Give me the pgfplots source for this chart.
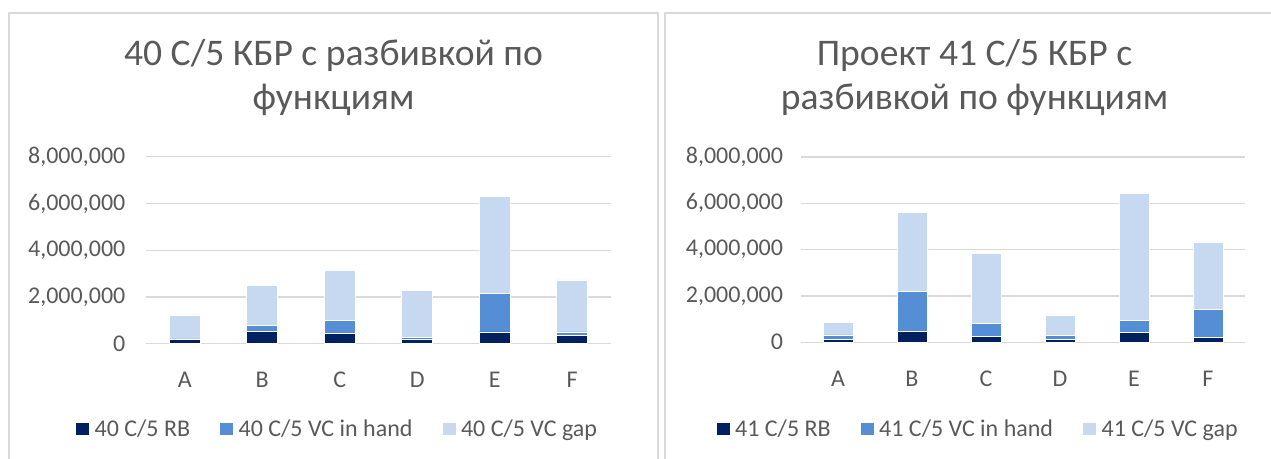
\documentclass[border=0pt]{standalone}
\usepackage{fontspec}
\setmainfont{Carlito}
\usepackage{pgfplots}
\pgfplotsset{compat=1.18}
\definecolor{rb}{RGB}{0,32,96}
\definecolor{hand}{RGB}{85,142,213}
\definecolor{gap}{RGB}{198,217,241}
\definecolor{txt}{RGB}{89,89,89}
\definecolor{grd}{RGB}{217,217,217}
\newcommand{\lblfont}{\fontsize{18pt}{21pt}\selectfont}
\newcommand{\ttl}{\fontsize{28.2pt}{34pt}\selectfont}
\pgfplotsset{
  mystyle/.style={
    scale only axis,
    anchor=south west,
    ybar stacked,
    ymin=0, ymax=8000000,
    xmin=-0.5, xmax=5.5,
    xtick={0,1,2,3,4,5},
    xticklabels={A,B,C,D,E,F},
    ytick={0,2000000,4000000,6000000,8000000},
    scaled y ticks=false,
    /pgf/number format/.cd, fixed, precision=0, 1000 sep={,}, assume math mode=true, /pgfplots/.cd,
    axis line style={draw=none},
    major tick length=0pt,
    tick style={draw=none},
    ymajorgrids,
    grid style={grd, line width=0.9pt},
    ticklabel style={font=\lblfont, text=txt},
    xticklabel style={yshift=-18pt},
    legend style={draw=none, fill=none, font=\lblfont, text=txt, anchor=center,
      legend columns=3,
      /tikz/every even column/.append style={column sep=20pt},
      /tikz/every odd column/.append style={column sep=1.5pt},
      legend cell align=left},
    legend image code/.code={\fill[##1] (0pt,-5pt) rectangle (10.5pt,5pt);},
    every axis plot/.append style={draw=white, line width=0.4pt},
    clip=false,
  }
}
\begin{document}
\begin{tikzpicture}
\useasboundingbox (0pt,0pt) rectangle (953.25pt,344.25pt);
% panel borders
\draw[grd, line width=0.9pt] (6.75pt,0pt) -- (6.75pt,334.5pt) -- (493.5pt,334.5pt) -- (493.5pt,0pt);
\draw[grd, line width=0.9pt] (498.75pt,0pt) -- (498.75pt,334.5pt) -- (953.25pt,334.5pt);
% titles
\node[anchor=base, text=txt, font=\ttl] at (250.1pt,294.75pt) {40 C/5 КБР с разбивкой по};
\node[anchor=base, text=txt, font=\ttl] at (250.1pt,261.75pt) {функциям};
\node[anchor=base, text=txt, font=\ttl] at (730.9pt,294.75pt) {Проект 41 C/5 КБР с};
\node[anchor=base, text=txt, font=\ttl] at (730.9pt,261.75pt) {разбивкой по функциям};

\begin{axis}[mystyle,
  at={(109.5pt,86.475pt)},
  width=348.75pt, height=140.25pt,
  bar width=23.25pt,
  yticklabel style={xshift=-12pt},
  legend style={at={(0.412,-0.456)}},
]
\addplot[fill=rb] coordinates {(0,170000) (1,540000) (2,430000) (3,210000) (4,510000) (5,370000)};
\addplot[fill=hand] coordinates {(0,40000) (1,230000) (2,560000) (3,50000) (4,1650000) (5,140000)};
\addplot[fill=gap] coordinates {(0,1020000) (1,1720000) (2,2140000) (3,2010000) (4,4150000) (5,2220000)};
\legend{40 C/5 RB, 40 C/5 VC in hand, 40 C/5 VC gap}
\end{axis}

\begin{axis}[mystyle,
  at={(600.75pt,87.525pt)},
  width=333pt, height=139.05pt,
  bar width=22.5pt,
  yticklabel style={xshift=-10pt},
  legend style={at={(0.399,-0.468)}},
]
\addplot[fill=rb] coordinates {(0,130000) (1,460000) (2,240000) (3,120000) (4,430000) (5,220000)};
\addplot[fill=hand] coordinates {(0,190000) (1,1730000) (2,570000) (3,170000) (4,510000) (5,1190000)};
\addplot[fill=gap] coordinates {(0,540000) (1,3410000) (2,3020000) (3,890000) (4,5480000) (5,2920000)};
\legend{41 C/5 RB, 41 C/5 VC in hand, 41 C/5 VC gap}
\end{axis}
\end{tikzpicture}
\end{document}
